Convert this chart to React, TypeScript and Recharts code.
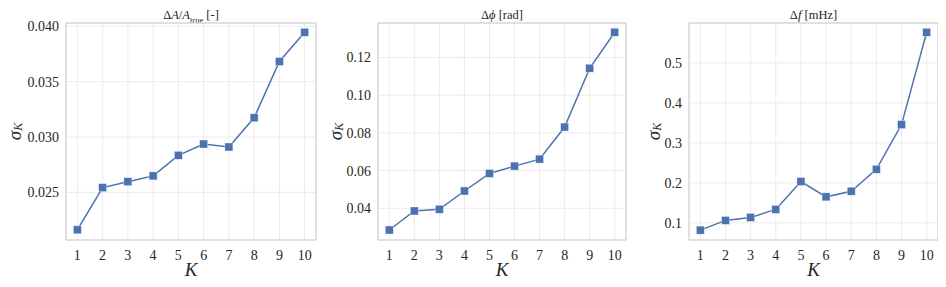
import React from "react";
import {
  LineChart,
  Line,
  XAxis,
  YAxis,
  CartesianGrid,
  ReferenceArea,
} from "recharts";

const kValues = [1, 2, 3, 4, 5, 6, 7, 8, 9, 10];
const ampErr = [0.02162, 0.02543, 0.02597, 0.02649, 0.02835, 0.02937, 0.0291, 0.03174, 0.03682, 0.03946];
const phaseErr = [0.0285, 0.0386, 0.0395, 0.0492, 0.0585, 0.0624, 0.0661, 0.0831, 0.1143, 0.1334];
const freqErr = [0.0817, 0.106, 0.1135, 0.1335, 0.2033, 0.165, 0.179, 0.234, 0.3458, 0.5767];

const ampTicks = [0.025, 0.03, 0.035, 0.04];
const phaseTicks = [0.04, 0.06, 0.08, 0.1, 0.12];
const freqTicks = [0.1, 0.2, 0.3, 0.4, 0.5];

const BLUE = "#4c72b0";
const FONT = "'Liberation Serif', serif";
const TEXT = "#262626";

const SquareDot = (props: any) => {
  const { cx, cy, index } = props;
  if (cx == null || cy == null) return <g key={`d${index}`} />;
  return (
    <rect
      key={`d${index}`}
      x={cx - 4}
      y={cy - 4}
      width={8}
      height={8}
      fill={BLUE}
      stroke="#ffffff"
      strokeOpacity={0.6}
      strokeWidth={0.6}
    />
  );
};

type PanelProps = {
  left: number;
  plotWidth: number;
  values: number[];
  ticks: number[];
  domain: [number, number];
  digits: number;
  labelOffset: number;
  title: React.ReactNode;
};

function Panel({ left, plotWidth, values, ticks, domain, digits, labelOffset, title }: PanelProps) {
  const data = kValues.map((k, i) => ({ k, v: values[i] }));
  const axisW = 65;
  const width = axisW + plotWidth + 2;
  const xDomain: [number, number] = [0.55, 10.45];
  const tickStyle = { fill: TEXT, fontSize: 14 };
  return (
    <div style={{ position: "absolute", left: left - axisW, top: 0, width, height: 287 }}>
      <div
        style={{
          position: "absolute",
          left: axisW,
          width: plotWidth,
          top: 7,
          textAlign: "center",
          fontSize: 12.5,
          color: TEXT,
          lineHeight: "16px",
          whiteSpace: "nowrap",
        }}
      >
        {title}
      </div>
      <LineChart
        width={width}
        height={287}
        data={data}
        margin={{ top: 23, right: 2, left: 0, bottom: 0 }}
      >
        <CartesianGrid stroke="#ebebeb" strokeWidth={1} />
        <ReferenceArea
          x1={xDomain[0]}
          x2={xDomain[1]}
          y1={domain[0]}
          y2={domain[1]}
          fill="none"
          stroke="#cccccc"
          strokeWidth={1}
        />
        <XAxis
          dataKey="k"
          type="number"
          domain={xDomain}
          ticks={kValues}
          height={47}
          axisLine={false}
          tickLine={false}
          tickSize={0}
          tickMargin={10}
          tick={tickStyle}
          label={{
            content: ({ viewBox }: any) => (
              <text
                x={viewBox.x + viewBox.width / 2}
                y={viewBox.y + 29}
                textAnchor="middle"
                dominantBaseline="central"
                fontStyle="italic"
                fontSize={19}
                fill={TEXT}
              >
                K
              </text>
            ),
          }}
        />
        <YAxis
          type="number"
          domain={domain}
          ticks={ticks}
          width={axisW}
          allowDataOverflow
          axisLine={false}
          tickLine={false}
          tickSize={0}
          tickMargin={7}
          tickFormatter={(v: number) => v.toFixed(digits)}
          tick={tickStyle}
          label={{
            content: ({ viewBox }: any) => {
              const cx = viewBox.x + axisW - labelOffset;
              const cy = viewBox.y + viewBox.height / 2;
              return (
                <text
                  x={cx}
                  y={cy}
                  transform={`rotate(-90 ${cx} ${cy})`}
                  textAnchor="middle"
                  dominantBaseline="central"
                  fontStyle="italic"
                  fontSize={19}
                  fill={TEXT}
                >
                  σ
                  <tspan fontSize={12} dy={4}>
                    K
                  </tspan>
                </text>
              );
            },
          }}
        />
        <Line
          type="linear"
          dataKey="v"
          stroke={BLUE}
          strokeWidth={1.5}
          dot={SquareDot}
          activeDot={false}
          isAnimationActive={false}
        />
      </LineChart>
    </div>
  );
}

export default function App() {
  return (
    <div
      style={{
        position: "relative",
        width: 946,
        height: 287,
        margin: "-8px 0 0 -8px",
        background: "#fff",
        fontFamily: FONT,
      }}
    >
      <style>{`.recharts-wrapper text, .recharts-wrapper tspan { font-family: ${FONT} !important; }`}</style>
      <Panel
        left={66}
        plotWidth={250}
        values={ampErr}
        ticks={ampTicks}
        domain={[0.0207, 0.0403]}
        digits={3}
        labelOffset={52}
        title={
          <span>
            Δ<i>A</i>/<i>A</i>
            <sub style={{ fontSize: 8.5 }}>true</sub> [-]
          </span>
        }
      />
      <Panel
        left={378}
        plotWidth={248}
        values={phaseErr}
        ticks={phaseTicks}
        domain={[0.0232, 0.1383]}
        digits={2}
        labelOffset={43}
        title={
          <span>
            Δ<i>ϕ</i> [rad]
          </span>
        }
      />
      <Panel
        left={689}
        plotWidth={249}
        values={freqErr}
        ticks={freqTicks}
        domain={[0.057, 0.6]}
        digits={1}
        labelOffset={36}
        title={
          <span>
            Δ<i>f</i> [mHz]
          </span>
        }
      />
    </div>
  );
}
